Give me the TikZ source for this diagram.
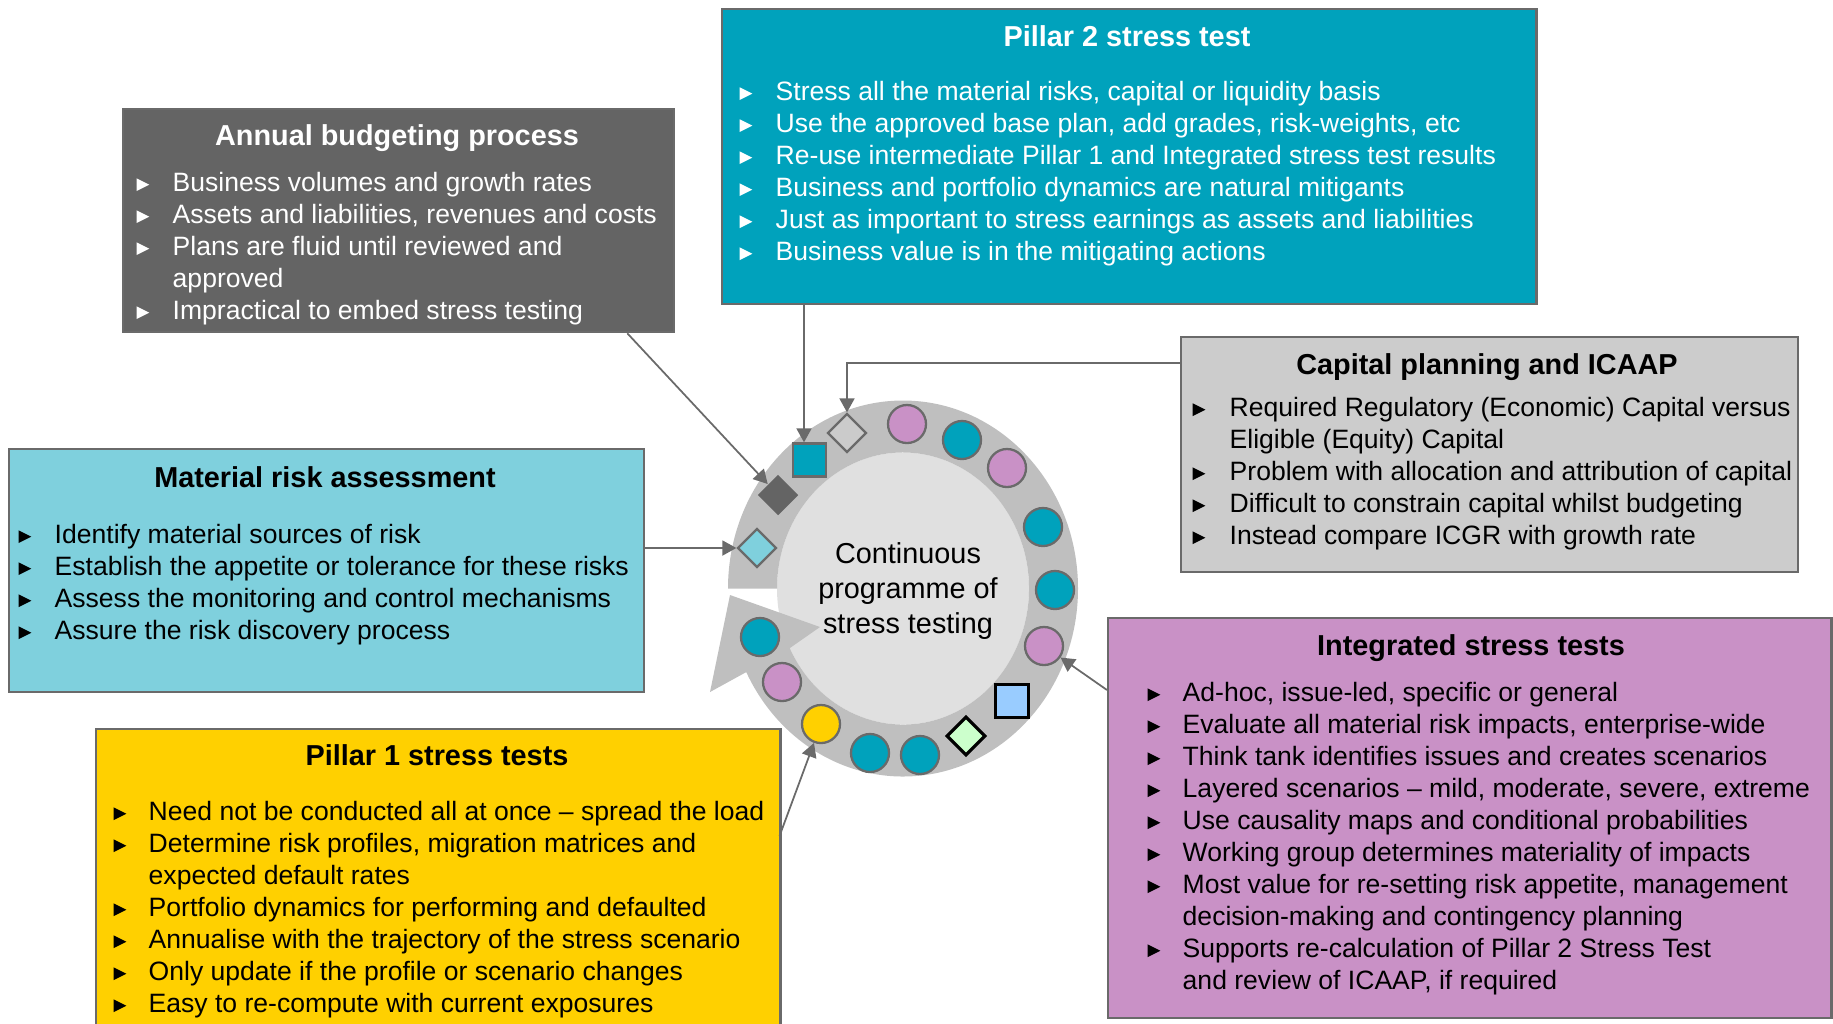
\documentclass[tikz,border=0pt]{standalone}
\usepackage{fontspec}
\setmainfont{Liberation Sans}
\usetikzlibrary{shapes.geometric, arrows.meta, calc}

\definecolor{tealc}{HTML}{00A2BC}
\definecolor{darkg}{HTML}{646464}
\definecolor{cyanl}{HTML}{7FD0DD}
\definecolor{lightg}{HTML}{CCCCCC}
\definecolor{mauve}{HTML}{C991C6}
\definecolor{gold}{HTML}{FFD000}
\definecolor{ringg}{HTML}{BFBFBF}
\definecolor{hubg}{HTML}{E0E0E0}
\definecolor{edgeg}{HTML}{6A6A6A}
\definecolor{skyb}{HTML}{99CCFF}
\definecolor{mint}{HTML}{CCFFCC}
\definecolor{pale}{HTML}{CBCBCB}

% small triangular bullet, takes the current text colour
\newcommand\tri{\tikz[baseline=0pt,x=1pt,y=1pt]\fill (0,0) -- (3.6,1.8) -- (0,3.6) -- cycle;}

\begin{document}
\begin{tikzpicture}[x=0.01cm, y=-0.01cm,
  box/.style={draw=edgeg, line width=0.6pt, anchor=north west, inner sep=0pt},
  ttl/.style={anchor=base, inner sep=0pt, font=\fontsize{8.2}{9.8}\selectfont\bfseries},
  lst/.style={anchor=base west, inner sep=0pt, font=\fontsize{7.55}{9.1}\selectfont},
  hubtxt/.style={anchor=base, inner sep=0pt, font=\fontsize{8.2}{9.96}\selectfont},
  dot/.style={circle, draw=edgeg, line width=0.65pt, minimum size=0.38cm, inner sep=0pt},
  sqr/.style={rectangle, minimum size=0.33cm, inner sep=0pt},
  dia/.style={diamond, minimum width=0.39cm, minimum height=0.39cm, inner sep=0pt},
  conn/.style={draw=edgeg, line width=0.5pt, -{Triangle[length=0.14cm, width=0.15cm]}}
]
\path[use as bounding box] (0,0) rectangle (1833,1023);

% ---- central cycle ----
\fill[hubg] (903,588.5) ellipse [x radius=126, y radius=136];
\begin{scope}[shift={(903,588.5)}]
  \fill[ringg] (180:175 and 188)
    arc[start angle=180, end angle=513.6, x radius=175, y radius=188]
    -- (-193,103.5) -- (-173,6.5) -- (-83,38.5)
    -- (154:126 and 136)
    arc[start angle=514, end angle=180, x radius=126, y radius=136]
    -- cycle;
\end{scope}
\node[hubtxt] (hub) at (908,563) {\begin{tabular}[t]{@{}c@{}}Continuous\\programme of\\stress testing\end{tabular}};

% markers around the cycle
\node[sqr, fill=tealc, draw=edgeg, line width=0.65pt] (tsq) at (809.5,460) {};
\node[dia, fill=pale, draw=edgeg, line width=0.65pt] (gd) at (847,433) {};
\node[dot, fill=mauve] (c1) at (907,424) {};
\node[dot, fill=tealc] (c2) at (962,440) {};
\node[dot, fill=mauve] (c3) at (1007,468) {};
\node[dot, fill=tealc] (c4) at (1043,527) {};
\node[dot, fill=tealc] (c5) at (1055,590) {};
\node[dot, fill=mauve] (c6) at (1044,646) {};
\node[sqr, fill=skyb, draw=black, line width=0.9pt] (bsq) at (1012,701) {};
\node[dia, fill=mint, draw=black, line width=0.9pt] (md) at (966,736) {};
\node[dot, fill=tealc] (c7) at (920,755) {};
\node[dot, fill=tealc] (c8) at (870,753) {};
\node[dot, fill=gold] (yc) at (821,724) {};
\node[dot, fill=mauve] (c9) at (782,682) {};
\node[dot, fill=tealc] (c10) at (760,637) {};
\node[dia, fill=darkg, minimum width=0.41cm, minimum height=0.41cm] (dd) at (778,495) {};
\node[dia, fill=cyanl, draw=edgeg, line width=0.65pt] (lbd) at (757,548) {};

% ---- boxes ----
\node[box, fill=tealc, minimum width=8.14cm, minimum height=2.95cm] (p2) at (721,8) {};
\node[ttl, text=white] (p2t) at (1127,46) {Pillar 2 stress test};
\node[lst, text=white] (p2l) at (739,100) {\begin{tabular}[t]{@{}p{0.36cm}@{}l@{}}
\tri & Stress all the material risks, capital or liquidity basis\\
\tri & Use the approved base plan, add grades, risk-weights, etc\\
\tri & Re-use intermediate Pillar 1 and Integrated stress test results\\
\tri & Business and portfolio dynamics are natural mitigants\\
\tri & Just as important to stress earnings as assets and liabilities\\
\tri & Business value is in the mitigating actions
\end{tabular}};

\node[box, fill=darkg, minimum width=5.51cm, minimum height=2.23cm] (ab) at (122,108) {};
\node[ttl, text=white] (abt) at (397,145) {Annual budgeting process};
\node[lst, text=white] (abl) at (136,191) {\begin{tabular}[t]{@{}p{0.36cm}@{}l@{}}
\tri & Business volumes and growth rates\\
\tri & Assets and liabilities, revenues and costs\\
\tri & Plans are fluid until reviewed and\\
     & approved\\
\tri & Impractical to embed stress testing
\end{tabular}};

\node[box, fill=cyanl, minimum width=6.35cm, minimum height=2.43cm] (mr) at (8,448) {};
\node[ttl] (mrt) at (325,487) {Material risk assessment};
\node[lst] (mrl) at (18,543) {\begin{tabular}[t]{@{}p{0.36cm}@{}l@{}}
\tri & Identify material sources of risk\\
\tri & Establish the appetite or tolerance for these risks\\
\tri & Assess the monitoring and control mechanisms\\
\tri & Assure the risk discovery process
\end{tabular}};

\node[box, fill=lightg, minimum width=6.17cm, minimum height=2.35cm] (cp) at (1180,336) {};
\node[ttl] (cpt) at (1487,374) {Capital planning and ICAAP};
\node[lst] (cpl) at (1192,416) {\begin{tabular}[t]{@{}p{0.37cm}@{}l@{}}
\tri & Required Regulatory (Economic) Capital versus\\
     & Eligible (Equity) Capital\\
\tri & Problem with allocation and attribution of capital\\
\tri & Difficult to constrain capital whilst budgeting\\
\tri & Instead compare ICGR with growth rate
\end{tabular}};

\node[box, fill=mauve, minimum width=7.23cm, minimum height=4.00cm] (ist) at (1107,617) {};
\node[ttl] (istt) at (1471,655) {Integrated stress tests};
\node[lst] (istl) at (1147,701) {\begin{tabular}[t]{@{}p{0.35cm}@{}l@{}}
\tri & Ad-hoc, issue-led, specific or general\\
\tri & Evaluate all material risk impacts, enterprise-wide\\
\tri & Think tank identifies issues and creates scenarios\\
\tri & Layered scenarios – mild, moderate, severe, extreme\\
\tri & Use causality maps and conditional probabilities\\
\tri & Working group determines materiality of impacts\\
\tri & Most value for re-setting risk appetite, management\\
     & decision-making and contingency planning\\
\tri & Supports re-calculation of Pillar 2 Stress Test\\
     & and review of ICAAP, if required
\end{tabular}};

\node[box, fill=gold, minimum width=6.84cm, minimum height=3.10cm] (p1) at (95,728) {};
\node[ttl] (p1t) at (437,765) {Pillar 1 stress tests};
\node[lst] (p1l) at (113,820) {\begin{tabular}[t]{@{}p{0.35cm}@{}l@{}}
\tri & Need not be conducted all at once – spread the load\\
\tri & Determine risk profiles, migration matrices and\\
     & expected default rates\\
\tri & Portfolio dynamics for performing and defaulted\\
\tri & Annualise with the trajectory of the stress scenario\\
\tri & Only update if the profile or scenario changes\\
\tri & Easy to re-compute with current exposures
\end{tabular}};

% ---- connectors ----
\draw[conn] ($(ab.south west)!0.913!(ab.south east)$) -- (dd);
\draw[conn] ($(p2.south west)+(83,0)$) -- ($(tsq.north)+(-5.5,0)$);
\draw[conn] ($(cp.north west)+(0,27)$) -| (gd.north);
\draw[conn] (lbd.west -| mr.east) -- (lbd.west);
\draw[conn] ($(ist.north west)+(0,73)$) -- (c6);
\draw[conn] ($(p1.north east)+(-2,108)$) -- (yc);
\end{tikzpicture}
\end{document}
